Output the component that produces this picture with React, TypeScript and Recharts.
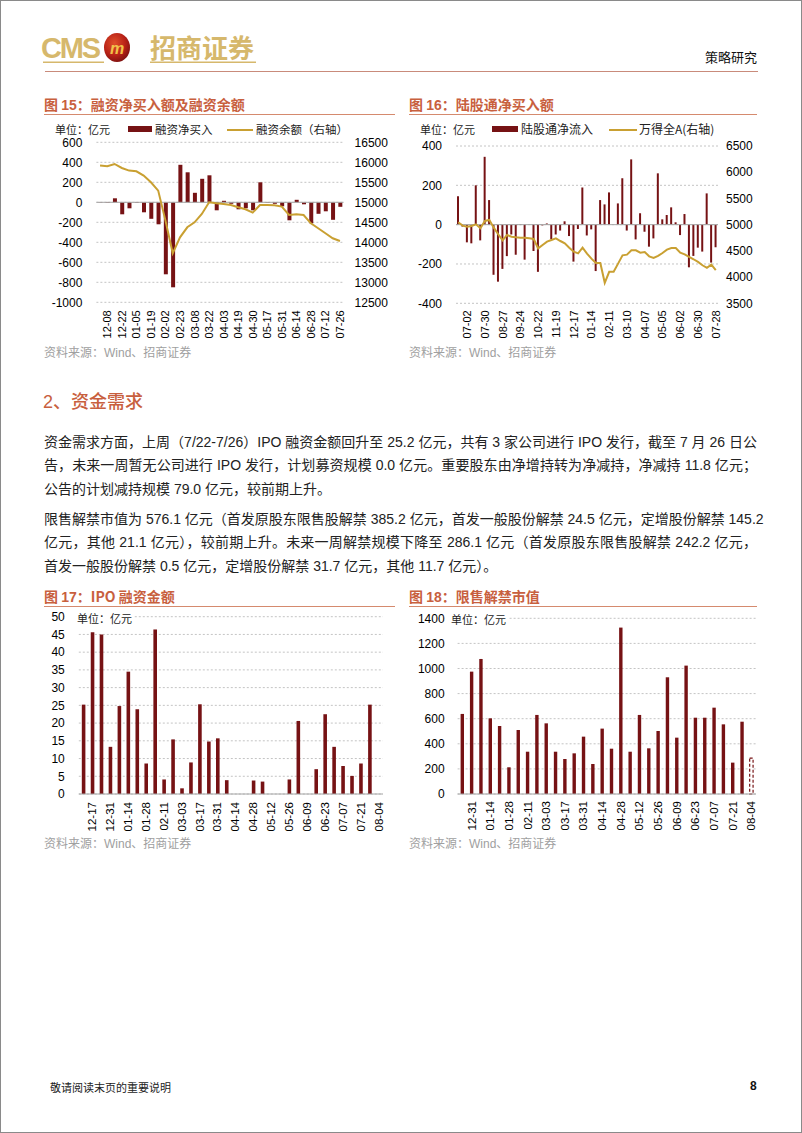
import React from 'react';
import { ComposedChart, Bar, Line, XAxis, YAxis, CartesianGrid, ReferenceLine, Cell } from 'recharts';

const FONT = '"Liberation Sans", Arial, "Noto Sans CJK SC", sans-serif';
const CJK = '"Noto Sans CJK SC", "Liberation Sans", sans-serif';
const BAR = '#761214';
const GOLD = '#C9A032';
const TITLE = '#C8603E';
const GRID = '#C4C4C4';
const AXIS = '#A6A6A6';

// ---- Chart 15: 融资净买入额及融资余额 ----
const dates15 = ['12-01','12-08','12-15','12-22','12-29','01-05','01-12','01-19','01-26','02-02','02-09','02-23','03-01','03-08','03-15','03-22','03-29','04-03','04-12','04-19','04-26','04-30','05-10','05-17','05-24','05-31','06-07','06-14','06-21','06-28','07-05','07-12','07-19','07-26'];
const netBuy15 = [-3,-5,40,-120,-60,-5,-100,-165,-220,-720,-850,375,300,95,235,270,-80,15,-15,-70,-60,-80,200,-5,-15,-40,-180,25,-20,-210,-115,-90,-175,-45];
const balance15 = [15917,15900,15958,15858,15792,15775,15667,15500,15292,14542,13725,14125,14375,14500,14708,15000,14975,14958,14933,14875,14825,14742,14933,14933,14925,14892,14683,14700,14683,14475,14350,14225,14100,14033];
const leftTicks15 = [-1000,-800,-600,-400,-200,0,200,400,600];
const rightTicks15 = [12500,13000,13500,14000,14500,15000,15500,16000,16500];

// ---- Chart 16: 陆股通净买入额 ----
const dates16 = ['06-18','06-25','07-02','07-09','07-16','07-23','07-30','08-06','08-13','08-20','08-27','09-03','09-10','09-17','09-24','10-01','10-08','10-15','10-22','10-29','11-05','11-12','11-19','11-26','12-03','12-10','12-17','12-24','12-31','01-07','01-14','01-21','01-28','02-04','02-11','02-18','02-25','03-03','03-10','03-17','03-24','03-31','04-07','04-14','04-21','04-28','05-05','05-12','05-19','05-26','06-02','06-09','06-16','06-23','06-30','07-07','07-14','07-21','07-28'];
const northbound16 = [145,-10,-90,-95,200,-80,345,125,-255,-290,-225,-160,-50,-153,-2,-178,0,-134,-240,-4,6,-74,-50,-30,17,-58,-188,-22,189,-55,-24,-236,125,103,164,0,108,236,-30,332,-75,58,-36,-112,-70,261,27,49,88,12,-53,54,-217,-159,-117,-137,159,-193,-115];
const windA16 = [5045,4981,4962,4975,5006,4930,5070,5089,4943,4816,4701,4803,4771,4758,4752,4752,4739,4727,4548,4612,4676,4707,4739,4688,4644,4561,4485,4453,4561,4447,4352,4270,4270,3891,4100,4100,4257,4415,4428,4510,4510,4466,4479,4396,4365,4403,4460,4523,4554,4554,4466,4434,4384,4340,4289,4226,4175,4238,4131];
const leftTicks16 = [-400,-200,0,200,400];
const rightTicks16 = [3500,4000,4500,5000,5500,6000,6500];

// ---- Chart 17: IPO 融资金额 ----
const dates17 = ['12-10','12-17','12-24','12-31','01-07','01-14','01-21','01-28','02-04','02-11','02-25','03-03','03-10','03-17','03-24','03-31','04-07','04-14','04-21','04-28','05-05','05-12','05-19','05-26','06-02','06-09','06-16','06-23','06-30','07-07','07-14','07-21','07-28','08-04'];
const ipo17 = [25.2,45.6,45.0,13.3,24.8,34.5,23.9,8.6,46.4,4.1,15.4,1.6,8.9,25.3,14.8,15.7,3.9,0,0,3.8,3.5,0,0,4.1,20.6,0,7.0,22.5,13.3,7.9,5.1,8.6,25.2,0];
const ticks17 = [0,5,10,15,20,25,30,35,40,45,50];

// ---- Chart 18: 限售解禁市值 ----
const dates18 = ['12-24','12-31','01-07','01-14','01-21','01-28','02-04','02-11','02-25','03-03','03-10','03-17','03-24','03-31','04-07','04-14','04-21','04-28','05-05','05-12','05-19','05-26','06-02','06-09','06-16','06-23','06-30','07-07','07-14','07-21','07-28','08-04'];
const unlock18 = [638,975,1076,603,542,213,510,337,630,563,337,279,324,457,239,521,361,1326,337,630,364,502,930,449,1023,608,608,688,555,250,576.1,286.1];
const ticks18 = [0,200,400,600,800,1000,1200,1400];

const data15 = dates15.map((d, i) => ({ d, net: netBuy15[i], bal: balance15[i] }));
const data16 = dates16.map((d, i) => ({ d, nb: northbound16[i], wa: windA16[i] }));
const data17 = dates17.map((d, i) => ({ d, v: ipo17[i] }));
const data18 = dates18.map((d, i) => ({ d, v: unlock18[i] }));

const rotTick = (fontSize: number, show: (i: number) => boolean, dy0: number) => (props: any) => {
  const { x, y, payload, index } = props;
  if (!show(index)) return <g />;
  const yy = y + dy0;
  return (
    <text x={x} y={yy} transform={`rotate(-90 ${x} ${yy})`} textAnchor="end" dominantBaseline="central"
      fontSize={fontSize} fill="#000" fontFamily={FONT}>{payload.value}</text>
  );
};

const yTick = { fontSize: 12, fill: '#000', fontFamily: FONT };

const Abs: React.FC<{ l: number; t: number; style?: React.CSSProperties; children?: React.ReactNode }> = ({ l, t, style, children }) => (
  <div style={{ position: 'absolute', left: l, top: t, whiteSpace: 'nowrap', ...style }}>{children}</div>
);

const Title: React.FC<{ l: number; t: number; w: number; num: string; text: string }> = ({ l, t, w, num, text }) => (
  <>
    <Abs l={l} t={t} style={{ fontSize: 14, fontWeight: 700, color: TITLE, lineHeight: '16px', fontFamily: CJK }}>
      图 <span style={{ fontFamily: FONT }}>{num}</span>：{text}
    </Abs>
    <div style={{ position: 'absolute', left: l, top: t + 18, width: w, height: 1, background: '#D58A6E' }} />
  </>
);

const Source: React.FC<{ l: number; t: number }> = ({ l, t }) => (
  <Abs l={l} t={t} style={{ fontSize: 12, color: '#A0A0A0', lineHeight: '14px', fontFamily: CJK }}>
    资料来源：<span style={{ fontFamily: FONT }}>Wind</span>、招商证券
  </Abs>
);

const para1 = [
  '资金需求方面，上周（7/22-7/26）IPO 融资金额回升至 25.2 亿元，共有 3 家公司进行 IPO 发行，截至 7 月 26 日公',
  '告，未来一周暂无公司进行 IPO 发行，计划募资规模 0.0 亿元。重要股东由净增持转为净减持，净减持 11.8 亿元；',
  '公告的计划减持规模 79.0 亿元，较前期上升。',
];
const para2 = [
  '限售解禁市值为 576.1 亿元（首发原股东限售股解禁 385.2 亿元，首发一般股份解禁 24.5 亿元，定增股份解禁 145.2',
  '亿元，其他 21.1 亿元），较前期上升。未来一周解禁规模下降至 286.1 亿元（首发原股东限售股解禁 242.2 亿元，',
  '首发一般股份解禁 0.5 亿元，定增股份解禁 31.7 亿元，其他 11.7 亿元）。',
];

const TextLine: React.FC<{ t: number; text: string; last: boolean }> = ({ t, text, last }) => (
  <div style={{
    position: 'absolute', left: 44, top: t, width: 713, fontSize: 14, lineHeight: '20px', color: '#222',
    fontFamily: FONT, whiteSpace: 'nowrap', textAlign: last ? 'left' : 'justify', textAlignLast: last ? 'left' : 'justify',
  } as React.CSSProperties}>{text}</div>
);

const LegendRect: React.FC<{ l: number; t: number; w: number }> = ({ l, t, w }) => (
  <div style={{ position: 'absolute', left: l, top: t, width: w, height: 6, background: BAR }} />
);
const LegendLine: React.FC<{ l: number; t: number; w: number }> = ({ l, t, w }) => (
  <div style={{ position: 'absolute', left: l, top: t, width: w, height: 2, background: GOLD }} />
);

export default function App() {
  return (
    <div style={{ position: 'absolute', left: 0, top: 0, width: 802, height: 1133, background: '#fff', overflow: 'hidden', fontFamily: FONT }}>
      <div style={{ position: 'absolute', left: 0, top: 0, width: 802, height: 1133, border: '1px solid #8a8a8a', boxSizing: 'border-box' }} />

      {/* Header */}
      <svg style={{ position: 'absolute', left: 0, top: 0 }} width={802} height={80}>
        <defs>
          <radialGradient id="lg" cx="40%" cy="35%" r="70%">
            <stop offset="0%" stopColor="#E0502A" />
            <stop offset="60%" stopColor="#B82217" />
            <stop offset="100%" stopColor="#7A1010" />
          </radialGradient>
        </defs>
        <text x={41} y={58} fontSize={29} fontWeight={700} fill="#D6B86C" fontFamily={FONT} textLength={60}>CMS</text>
        <rect x={43} y={61.5} width={61} height={1.5} fill="#D6B86C" />
        <ellipse cx={117} cy={47.5} rx={13} ry={14.5} fill="url(#lg)" />
        <text x={117} y={54} fontSize={16} fontWeight={700} fill="#F1C24A" fontFamily={FONT} textAnchor="middle" fontStyle="italic">m</text>
        <text x={150} y={58} fontSize={26} fontWeight={700} fill="#D6B86C" fontFamily={CJK} textLength={104}>招商证券</text>
        <rect x={150} y={61.5} width={106} height={1.5} fill="#D6B86C" />
        <text x={757} y={62} fontSize={13} fill="#111" fontFamily={CJK} textAnchor="end">策略研究</text>
        <rect x={45} y={71} width={713} height={1} fill="#C98B7B" />
      </svg>

      {/* Titles */}
      <Title l={44} t={96} w={351} num="15" text="融资净买入额及融资余额" />
      <Title l={409} t={96} w={348} num="16" text="陆股通净买入额" />

      {/* Chart 15 */}
      <div style={{ position: 'absolute', left: 40, top: 135 }}>
        <ComposedChart width={360} height={215} data={data15} margin={{ top: 7.3, right: 0, bottom: 0, left: 0 }}>
          <CartesianGrid yAxisId="l" vertical={false} stroke={GRID} strokeDasharray="2 2" />
          <XAxis dataKey="d" interval={0} height={47.7} axisLine={false} tickLine={false}
            tick={rotTick(11, (i) => i % 2 === 1, 0)} />
          <YAxis yAxisId="l" domain={[-1000, 600]} ticks={leftTicks15} interval={0} width={56.4}
            axisLine={false} tickLine={false} tickMargin={8} tick={yTick} />
          <YAxis yAxisId="r" orientation="right" domain={[12500, 16500]} ticks={rightTicks15} interval={0} width={56.4}
            axisLine={false} tickLine={false} tickMargin={5} tick={yTick} />
          <ReferenceLine yAxisId="l" y={0} stroke={AXIS} strokeWidth={1} />
          <Bar yAxisId="l" dataKey="net" fill={BAR} barSize={4} isAnimationActive={false} />
          <Line yAxisId="r" dataKey="bal" stroke={GOLD} strokeWidth={2} dot={false} type="linear" isAnimationActive={false} />
        </ComposedChart>
      </div>
      <Abs l={55} t={122} style={{ fontSize: 11, lineHeight: '14px', fontFamily: CJK, color: '#222' }}>单位：亿元</Abs>
      <LegendRect l={128} t={126} w={24} />
      <Abs l={155} t={121} style={{ fontSize: 11.5, lineHeight: '16px', fontFamily: CJK, color: '#222' }}>融资净买入</Abs>
      <LegendLine l={227} t={128.5} w={26} />
      <Abs l={256} t={121} style={{ fontSize: 11.5, lineHeight: '16px', fontFamily: CJK, color: '#222' }}>融资余额（右轴）</Abs>

      {/* Chart 16 */}
      <div style={{ position: 'absolute', left: 405, top: 135 }}>
        <ComposedChart width={360} height={215} data={data16} margin={{ top: 11, right: 0, bottom: 0, left: 0 }}>
          <CartesianGrid yAxisId="l" vertical={false} stroke={GRID} strokeDasharray="2 2" />
          <XAxis dataKey="d" interval={0} height={46.7} axisLine={false} tickLine={false}
            tick={rotTick(11, (i) => i % 4 === 2, -1)} />
          <YAxis yAxisId="l" domain={[-400, 400]} ticks={leftTicks16} interval={0} width={51}
            axisLine={false} tickLine={false} tickMargin={8} tick={yTick} />
          <YAxis yAxisId="r" orientation="right" domain={[3500, 6500]} ticks={rightTicks16} interval={0} width={47}
            axisLine={false} tickLine={false} tickMargin={2} tick={yTick} />
          <ReferenceLine yAxisId="l" y={0} stroke={AXIS} strokeWidth={1} />
          <Bar yAxisId="l" dataKey="nb" fill={BAR} barSize={2} isAnimationActive={false} />
          <Line yAxisId="r" dataKey="wa" stroke={GOLD} strokeWidth={2} dot={false} type="linear" isAnimationActive={false} />
        </ComposedChart>
      </div>
      <Abs l={420} t={122} style={{ fontSize: 11, lineHeight: '14px', fontFamily: CJK, color: '#222' }}>单位：亿元</Abs>
      <LegendRect l={492} t={126} w={26} />
      <Abs l={521} t={121} style={{ fontSize: 12, lineHeight: '16px', fontFamily: CJK, color: '#222' }}>陆股通净流入</Abs>
      <LegendLine l={609} t={128.5} w={28} />
      <Abs l={639} t={121} style={{ fontSize: 12, lineHeight: '16px', fontFamily: CJK, color: '#222' }}>万得全A(右轴)</Abs>

      <Source l={44} t={345} />
      <Source l={409} t={345} />

      {/* Section */}
      <Abs l={43} t={389} style={{ fontSize: 18, lineHeight: '22px', color: TITLE, fontFamily: CJK, fontWeight: 500 }}>
        <span style={{ fontFamily: FONT }}>2</span>、资金需求
      </Abs>
      {para1.map((s, i) => <TextLine key={'a' + i} t={432 + i * 23.3} text={s} last={i === para1.length - 1} />)}
      {para2.map((s, i) => <TextLine key={'b' + i} t={509 + i * 23.3} text={s} last={i === para2.length - 1} />)}

      {/* Titles 17/18 */}
      <Title l={44} t={588} w={351} num="17" text="IPO 融资金额" />
      <Title l={409} t={588} w={348} num="18" text="限售解禁市值" />

      {/* Chart 17 */}
      <div style={{ position: 'absolute', left: 40, top: 605 }}>
        <ComposedChart width={360} height={250} data={data17} margin={{ top: 11.7, right: 17, bottom: 0, left: 0 }}>
          <CartesianGrid vertical={false} stroke={GRID} strokeDasharray="2 2" />
          <XAxis dataKey="d" interval={0} height={61} axisLine={{ stroke: AXIS }} tickLine={false}
            tick={rotTick(11.5, (i) => i % 2 === 1, 0)} />
          <YAxis domain={[0, 50]} ticks={ticks17} interval={0} width={38.8}
            axisLine={false} tickLine={false} tickMargin={8} tick={yTick} />
          <Bar dataKey="v" fill={BAR} barSize={3.6} isAnimationActive={false} />
        </ComposedChart>
      </div>
      <Abs l={75} t={611} style={{ fontSize: 11, lineHeight: '14px', fontFamily: CJK, color: '#222', background: '#fff', padding: '0 2px' }}>单位：亿元</Abs>

      {/* Chart 18 */}
      <div style={{ position: 'absolute', left: 405, top: 605 }}>
        <ComposedChart width={360} height={250} data={data18} margin={{ top: 13.3, right: 9, bottom: 0, left: 0 }}>
          <CartesianGrid vertical={false} stroke={GRID} strokeDasharray="2 2" />
          <XAxis dataKey="d" interval={0} height={61} axisLine={{ stroke: AXIS }} tickLine={false}
            tick={rotTick(11.5, (i) => i % 2 === 1, -1)} />
          <YAxis domain={[0, 1400]} ticks={ticks18} interval={0} width={52.6}
            axisLine={false} tickLine={false} tickMargin={7} tick={yTick} />
          <Bar dataKey="v" fill={BAR} barSize={3.4} isAnimationActive={false}>
            {data18.map((_, i) => i === data18.length - 1
              ? <Cell key={i} fill="#fff" stroke={BAR} strokeWidth={1.2} strokeDasharray="3 2" />
              : <Cell key={i} fill={BAR} />)}
          </Bar>
        </ComposedChart>
      </div>
      <Abs l={449} t={612} style={{ fontSize: 11, lineHeight: '14px', fontFamily: CJK, color: '#222', background: '#fff', padding: '0 2px' }}>单位：亿元</Abs>

      <Source l={44} t={836} />
      <Source l={409} t={836} />

      {/* Footer */}
      <Abs l={50} t={1080} style={{ fontSize: 11, lineHeight: '14px', fontFamily: CJK, color: '#222' }}>敬请阅读末页的重要说明</Abs>
      <Abs l={750} t={1079} style={{ fontSize: 12, lineHeight: '14px', fontWeight: 700, color: '#111' }}>8</Abs>
    </div>
  );
}
